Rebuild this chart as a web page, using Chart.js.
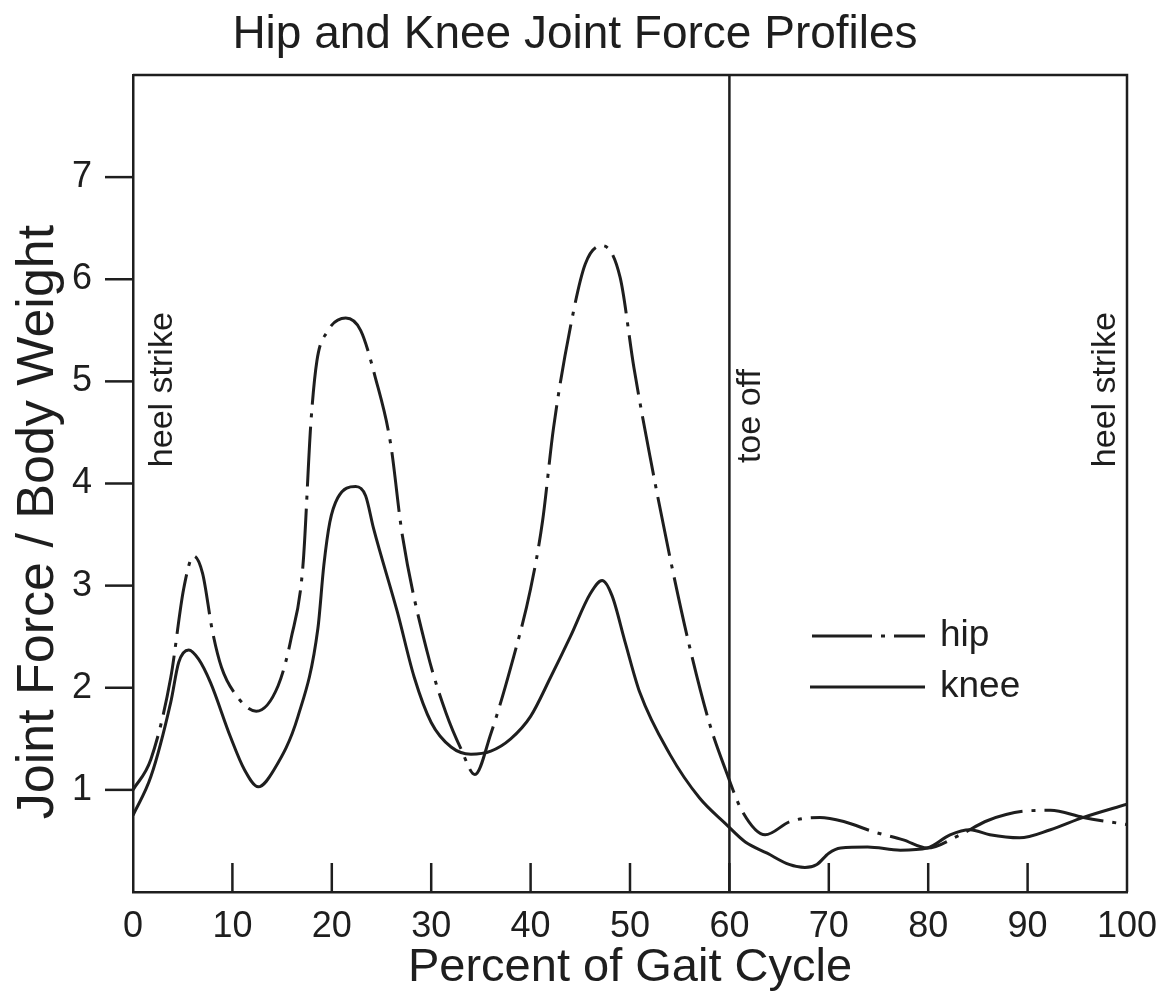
<!DOCTYPE html>
<html><head><meta charset="utf-8">
<script src="https://cdn.jsdelivr.net/npm/chart.js@4.4.0/dist/chart.umd.min.js"></script>
<style>html,body{margin:0;padding:0;background:#fff;}#wrap{width:1158px;height:992px;}</style>
</head><body><div id="wrap"><canvas id="c" width="1158" height="992"></canvas></div>
<script>
const chartTitle = 'Hip and Knee Joint Force Profiles';
const xAxisTitle = 'Percent of Gait Cycle';
const yAxisTitle = 'Joint Force / Body Weight';
const seriesNames = ['hip', 'knee'];
const eventNames = ['heel strike', 'toe off', 'heel strike'];
const toeOffPercent = 60;

const hipX = [0,1.8,3.8,5.1,6.1,7.0,8.0,8.9,10.2,12.4,14.6,15.9,17.1,17.9,18.5,19.5,21.4,22.9,24.4,25.9,27.1,29.6,31.5,33,34.4,36,38,40,41.2,42.3,44,45.5,47.2,49,50.4,52.1,54.1,56,58,59.6,61.3,63.6,66.1,69.1,71.5,74.5,77.5,79.9,83,86,89.5,92.3,95.6,100];
const hipY = [1.0,1.3,2.1,2.97,3.29,3.12,2.55,2.2,1.95,1.77,2.02,2.48,3.2,4.6,5.2,5.48,5.62,5.5,5.03,4.4,3.49,2.35,1.75,1.4,1.15,1.55,2.2,2.97,3.63,4.54,5.53,6.15,6.33,6.02,5.13,4.22,3.24,2.4,1.65,1.2,0.79,0.56,0.69,0.73,0.69,0.59,0.51,0.43,0.55,0.7,0.79,0.8,0.73,0.66];
const kneeX = [0,1.8,3.8,4.6,5.6,6.6,7.8,9.8,11.2,12.6,14.2,16.6,18.6,19.2,19.8,20.6,22.4,23.4,24.2,26.6,28.3,30,32,34,36,38,40,42,44,46,47.2,48.2,49.5,51,54,57,59.6,61.6,63.8,66,67.6,68.8,70,71.2,73.9,77.2,79.9,82.2,84.2,86.2,89.2,92.3,95.6,100];
const kneeY = [0.75,1.13,1.86,2.25,2.37,2.28,2.05,1.52,1.2,1.03,1.2,1.72,2.58,3.2,3.62,3.86,3.97,3.88,3.56,2.74,2.1,1.66,1.42,1.35,1.38,1.5,1.72,2.1,2.5,2.92,3.05,2.9,2.45,1.95,1.35,0.92,0.67,0.49,0.38,0.27,0.24,0.27,0.38,0.43,0.44,0.41,0.43,0.56,0.61,0.56,0.53,0.61,0.73,0.86];
const xTickValues = [0,10,20,30,40,50,60,70,80,90,100];
const yTickValues = [1,2,3,4,5,6,7];

const INK = '#1e1e1e';
const FONT = '"Liberation Sans", Arial, Helvetica, sans-serif';
const HIP_DASH = [60, 9, 4, 9];

const toPts = (xs, ys) => xs.map((x, i) => ({x: x, y: ys[i]}));

const overlay = {
  id: 'overlay',
  beforeDraw(chart) {
    const c = chart.ctx;
    c.save(); c.fillStyle = '#fff'; c.fillRect(0, 0, chart.width, chart.height); c.restore();
  },
  afterDraw(chart, args, o) {
    const c = chart.ctx, a = chart.chartArea, xs = chart.scales.x, ys = chart.scales.y;
    c.save();
    c.strokeStyle = INK; c.fillStyle = INK; c.lineWidth = 2.5; c.setLineDash([]);
    c.beginPath();
    c.moveTo(a.left, a.top); c.lineTo(a.right, a.top); c.lineTo(a.right, a.bottom);
    c.stroke();
    const tx = xs.getPixelForValue(toeOffPercent);
    c.beginPath(); c.moveTo(tx, a.top); c.lineTo(tx, a.bottom); c.stroke();
    xs.ticks.forEach(t => {
      if (t.value <= xs.min || t.value >= xs.max) return;
      const px = xs.getPixelForValue(t.value);
      c.beginPath(); c.moveTo(px, a.bottom); c.lineTo(px, a.bottom - o.xTickLen); c.stroke();
    });
    ys.ticks.forEach(t => {
      if (t.value <= ys.min || t.value >= ys.max) return;
      const py = ys.getPixelForValue(t.value);
      c.beginPath(); c.moveTo(a.left, py); c.lineTo(a.left - o.yTickLen, py); c.stroke();
    });
    c.font = '34px ' + FONT; c.textAlign = 'left'; c.textBaseline = 'alphabetic';
    o.events.forEach((e, i) => {
      c.save();
      c.translate(xs.getPixelForValue(e.x), ys.getPixelForValue(e.y));
      c.rotate(-Math.PI / 2);
      c.fillText(eventNames[i], 0, 0);
      c.restore();
    });
    c.font = '37px ' + FONT; c.textBaseline = 'middle';
    chart.data.datasets.forEach((ds, i) => {
      const L = o.legend[i];
      c.setLineDash(ds.borderDash || []);
      c.lineWidth = ds.borderWidth;
      c.beginPath(); c.moveTo(L.x0, L.y); c.lineTo(L.x1, L.y); c.stroke();
      c.setLineDash([]);
      c.fillText(ds.label, L.tx, L.y);
    });
    c.textAlign = 'center'; c.textBaseline = 'alphabetic';
    c.font = '46px ' + FONT;
    c.fillText(chartTitle, o.titleX, o.titleY);
    c.font = '47px ' + FONT;
    c.fillText(xAxisTitle, (a.left + a.right) / 2, o.xTitleY);
    c.save();
    c.font = '52px ' + FONT;
    c.translate(o.yTitleX, o.yTitleCY);
    c.rotate(-Math.PI / 2);
    c.fillText(yAxisTitle, 0, 0);
    c.restore();
    c.restore();
  }
};

new Chart(document.getElementById('c'), {
  type: 'line',
  data: {
    datasets: [
      { label: seriesNames[0], data: toPts(hipX, hipY), borderColor: INK, borderWidth: 3, borderDash: HIP_DASH, pointRadius: 0, fill: false, cubicInterpolationMode: 'monotone' },
      { label: seriesNames[1], data: toPts(kneeX, kneeY), borderColor: INK, borderWidth: 3, pointRadius: 0, fill: false, cubicInterpolationMode: 'monotone' }
    ]
  },
  options: {
    responsive: false,
    animation: false,
    devicePixelRatio: 1,
    layout: { padding: { top: 75, right: 31, left: 0, bottom: 0 } },
    plugins: {
      legend: { display: false },
      tooltip: { enabled: false },
      title: { display: false },
      overlay: {
        xTickLen: 29, yTickLen: 28,
        events: [ {x: 3.9, y: 4.16}, {x: 63.1, y: 4.2}, {x: 98.8, y: 4.16} ],
        legend: [ {x0: 812, x1: 925, y: 636, tx: 940}, {x0: 810, x1: 925, y: 687, tx: 940} ],
        titleX: 575, titleY: 48,
        xTitleY: 981,
        yTitleX: 53, yTitleCY: 522
      }
    },
    scales: {
      x: {
        type: 'linear', min: 0, max: 100,
        afterFit: s => { s.height = 100; s.paddingLeft = 0; s.paddingRight = 0; },
        afterBuildTicks: s => { s.ticks = xTickValues.map(v => ({value: v})); },
        ticks: { font: { family: FONT, size: 36 }, color: INK, padding: 5, maxRotation: 0, autoSkip: false },
        grid: { display: false },
        border: { display: true, color: INK, width: 2.5 }
      },
      y: {
        type: 'linear', min: 0, max: 8,
        afterFit: s => { s.width = 133; s.paddingTop = 0; s.paddingBottom = 0; },
        afterBuildTicks: s => { s.ticks = yTickValues.map(v => ({value: v})); },
        ticks: { font: { family: FONT, size: 36 }, color: INK, padding: 33, autoSkip: false },
        grid: { display: false },
        border: { display: true, color: INK, width: 2.5 }
      }
    }
  },
  plugins: [overlay]
});
</script></body></html>
